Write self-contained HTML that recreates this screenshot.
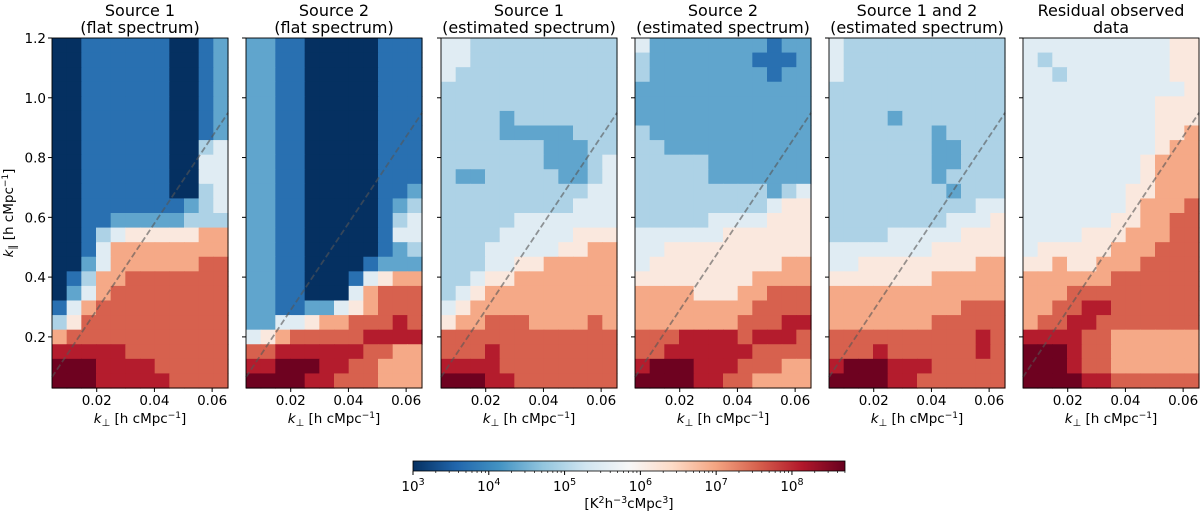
<!DOCTYPE html>
<html><head><meta charset="utf-8">
<style>
html,body{margin:0;padding:0;background:#fff;}
svg{display:block;font-family:"DejaVu Sans","Liberation Sans",sans-serif;}
</style></head>
<body>
<svg id="fig" width="1200" height="512" xmlns="http://www.w3.org/2000/svg"></svg>
<script>
// ---- data (log-level codes 0..9, top row = highest k_parallel) ----
const panelTitles = [["Source 1","(flat spectrum)"],["Source 2","(flat spectrum)"],["Source 1","(estimated spectrum)"],["Source 2","(estimated spectrum)"],["Source 1 and 2","(estimated spectrum)"],["Residual observed","data"]];
const levelLogs = [3.0,3.7,4.35,4.95,5.5,6.15,6.95,7.55,8.1,8.65];
const grid1 = ["001111110012","001111110012","001111110012","001111110012","001111110012","001111110012","001111110012","001111110034","001111110044","001111110044","001111110034","001111111234","001122222333","001345555566","001466666666","002466666677","013667777777","024677777777","146777777777","357777777777","677777777777","888887777777","999888877777","999888887777"];
const grid2 = ["221100000111","221100000111","221100000111","221100000111","221100000111","221100000111","221100000111","221100000111","221100000111","221100000111","221100000112","221100000123","221100000134","221100000144","221100000123","221100001222","221100014566","221100046777","221122456777","224456677787","456777778888","778888887766","889998877666","999988777666"];
const grid3 = ["443333333333","443333333333","433333333333","333333333333","333333333333","333323333333","333322222333","333333322233","333333322234","322333332234","333333333344","333333333444","333334444444","333344444555","333444445566","333445566666","334556666666","345666666666","456666666666","566777666676","777777777777","777877777777","888877777777","999887777777"];
const grid4 = ["422222222122","322222221112","322222222122","222222222222","222222222222","222222222222","322222222222","332222222222","333332222222","333332222222","333333333234","333333333455","333334444555","444444555555","445555555555","455555555566","555555556666","666655566777","666666667777","666666677788","777888878887","778888887777","899988877766","999988776666"];
const grid5 = ["433333333333","433333333333","433333333333","333333333333","333333333333","333323333333","333333323333","333333322333","333333322333","333333323333","333333332333","333333333344","333333334445","333344444555","444444455555","445555555566","555555566666","666666666666","666666666777","666666677777","777777777787","777877777787","899988877777","999988777777"];
const grid6 = ["444444444455","434444444455","443444444455","444444444445","444444444555","444444444555","444444444556","444444444566","444444445666","444444445666","444444455666","444444456667","444444556677","444455566677","455555666777","556556667777","666666777777","666777777777","667788777777","677887777777","888877666666","999877666666","999877666666","999988777777"];
const grids = [grid1,grid2,grid3,grid4,grid5,grid6];
const xTicks = [0.02,0.04,0.06];
const yTicks = [0.2,0.4,0.6,0.8,1.0,1.2];
const cbTicks = [3,4,5,6,7,8];
const wedgeSlope = [14.5];

// ---- geometry ----
const NS="http://www.w3.org/2000/svg";
const svg=document.getElementById('fig');
const panelLeft=[52,246,441,635,829,1023], PW=176, PT=38, PB=388;
const xMin=0.0045,xMax=0.0655,yMin=0.029,yMax=1.2;
const logMin=3, logMax=8.7;
function el(tag,attrs,parent){const e=document.createElementNS(NS,tag);for(const k in attrs)e.setAttribute(k,attrs[k]);(parent||svg).appendChild(e);return e;}
const stops=["#053061","#2166ac","#4393c3","#92c5de","#d1e5f0","#f7f7f7","#fddbc7","#f4a582","#d6604d","#b2182b","#67001f"];
function hex(h){return [1,3,5].map(i=>parseInt(h.substr(i,2),16));}
function cmap(t){t=Math.max(0,Math.min(1,t));const s=t*10,i=Math.min(9,Math.floor(s)),f=s-i;const a=hex(stops[i]),b=hex(stops[i+1]);return `rgb(${a.map((v,k)=>Math.round(v+(b[k]-v)*f)).join(',')})`;}
function codeToLog(c){return levelLogs[c];}

grids.forEach((g,p)=>{
  const L=panelLeft[p];
  const sx=v=>L+(v-xMin)/(xMax-xMin)*PW;
  const sy=v=>PB-(v-yMin)/(yMax-yMin)*(PB-PT);
  const grp=el('g',{});
  
  
  const rows=g.length, cols=g[0].length;
  const cw=PW/cols, ch=(PB-PT)/rows;
  for(let r=0;r<rows;r++)for(let c=0;c<cols;c++){
    const lv=codeToLog(+g[r][c]);
    const cell=el('rect',{x:(L+c*cw).toFixed(2),y:(PT+r*ch).toFixed(2),width:(cw+0.6).toFixed(2),height:(ch+0.6).toFixed(2),fill:cmap((lv-logMin)/(logMax-logMin))},grp);
    
    
  }
  const m=wedgeSlope[0];
  const ln=el('line',{x1:sx(xMin),y1:sy(m*xMin),x2:sx(xMax),y2:sy(m*xMax),stroke:'#555','stroke-opacity':0.6,'stroke-width':1.8,'stroke-dasharray':'6,3'},grp);
  
  
  const fr=el('rect',{x:L,y:PT,width:PW,height:PB-PT,fill:'none',stroke:'#000','stroke-width':0.9},grp);
  
  
  panelTitles[p].forEach((t,i)=>{
    const tt=el('text',{x:L+PW/2,y:16+i*17,'text-anchor':'middle','font-size':16,fill:'#000'},grp);
    tt.textContent=t;
    
    
  });
  xTicks.forEach(v=>{
    el('line',{x1:sx(v),y1:PB,x2:sx(v),y2:PB+4,stroke:'#000'},grp);
    const t=el('text',{x:sx(v),y:PB+17,'text-anchor':'middle','font-size':13.5},grp);
    t.textContent=v.toFixed(2);
    
    
  });
  yTicks.forEach(v=>{
    el('line',{x1:L-4,y1:sy(v),x2:L,y2:sy(v),stroke:'#000'},grp);
    if(p===0){
      const t=el('text',{x:L-6,y:sy(v)+5,'text-anchor':'end','font-size':13.5},grp);
      t.textContent=v.toFixed(1);
      
      
    }
  });
  const xl=el('text',{x:L+PW/2,y:PB+35,'text-anchor':'middle','font-size':13.5},grp);
  xl.innerHTML='<tspan font-style="italic">k</tspan><tspan font-size="10" dy="3">⊥</tspan><tspan dy="-3"> [h cMpc</tspan><tspan font-size="9" dy="-5">−1</tspan><tspan dy="5">]</tspan>';
  
  
});
const yl=el('text',{transform:'translate(13,213) rotate(-90)','text-anchor':'middle','font-size':13.5});
yl.innerHTML='<tspan font-style="italic">k</tspan><tspan font-size="10" dy="3">∥</tspan><tspan dy="-3"> [h cMpc</tspan><tspan font-size="9" dy="-5">−1</tspan><tspan dy="5">]</tspan>';



const CBL=413,CBR=845,CBT=461,CBB=471;
const cb=el('g',{});


const defs=el('defs',{});
const lg=el('linearGradient',{id:'cbg',x1:0,x2:1,y1:0,y2:0},defs);
stops.forEach((s,i)=>el('stop',{offset:i/10,'stop-color':s},lg));
el('rect',{x:CBL,y:CBT,width:CBR-CBL,height:CBB-CBT,fill:'url(#cbg)',stroke:'#000','stroke-width':0.8},cb);
const cx=v=>CBL+(v-logMin)/(logMax-logMin)*(CBR-CBL);
cbTicks.forEach(d=>{
  el('line',{x1:cx(d),y1:CBB,x2:cx(d),y2:CBB+4,stroke:'#000'},cb);
  for(let k=2;k<10;k++){const lv=d+Math.log10(k);if(lv<=logMax)el('line',{x1:cx(lv),y1:CBB,x2:cx(lv),y2:CBB+2,stroke:'#000','stroke-width':0.7},cb);}
  const t=el('text',{x:cx(d),y:CBB+20,'text-anchor':'middle','font-size':13.5},cb);
  t.innerHTML='10<tspan font-size="9.5" dy="-6">'+d+'</tspan>';
  
  
});
const cl=el('text',{x:(CBL+CBR)/2,y:508,'text-anchor':'middle','font-size':13.5},cb);
cl.innerHTML='[K<tspan font-size="9.5" dy="-5">2</tspan><tspan dy="5">h</tspan><tspan font-size="9.5" dy="-5">−3</tspan><tspan dy="5">cMpc</tspan><tspan font-size="9.5" dy="-5">3</tspan><tspan dy="5">]</tspan>';


</script>
</body></html>
